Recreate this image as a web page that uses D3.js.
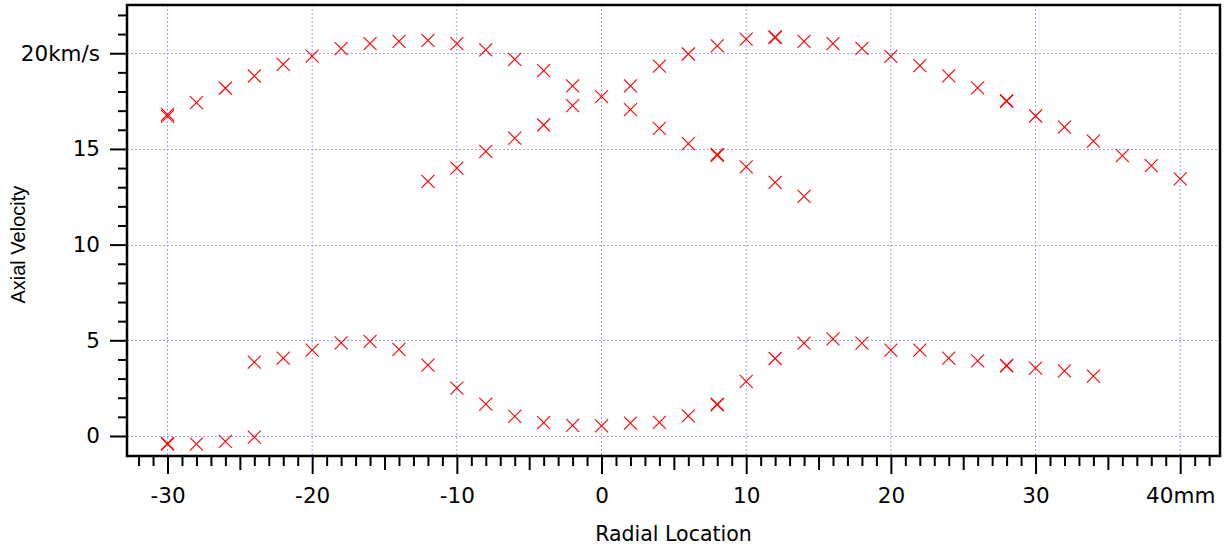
<!DOCTYPE html>
<html>
<head>
<meta charset="utf-8">
<script src="https://cdn.jsdelivr.net/npm/d3@7"></script>
<style>
  html, body { margin: 0; padding: 0; background: #ffffff; }
  svg { display: block; }
</style>
</head>
<body>
<svg id="chart" width="1228" height="548"></svg>
<script>
// ---------------- data ----------------
const upperX = [-30,-28,-26,-24,-22,-20,-18,-16,-14,-12,-10,-8,-6,-4,-2,0,2,4,6,8,10,12,14,16,18,20,22,24,26,28,30,32,34,36,38,40];
const upperV = [16.7,17.42,18.17,18.81,19.42,19.85,20.24,20.5,20.62,20.67,20.5,20.17,19.68,19.09,18.29,17.73,18.3,19.33,19.96,20.39,20.74,20.82,20.62,20.5,20.25,19.83,19.35,18.82,18.19,17.48,16.72,16.14,15.41,14.65,14.13,13.43];

const innerX = [-12,-10,-8,-6,-4,-2,2,4,6,8,10,12,14];
const innerV = [13.3,14.0,14.87,15.56,16.25,17.26,17.05,16.07,15.28,14.67,14.06,13.25,12.52];

const lowLeftX = [-30,-28,-26,-24];
const lowLeftV = [-0.42,-0.42,-0.28,-0.06];

const lowerX = [-24,-22,-20,-18,-16,-14,-12,-10,-8,-6,-4,-2,0,2,4,6,8,10,12,14,16,18,20,22,24,26,28,30,32,34];
const lowerV = [3.86,4.07,4.49,4.87,4.94,4.53,3.7,2.5,1.66,1.03,0.7,0.55,0.53,0.67,0.71,1.05,1.63,2.86,4.05,4.85,5.08,4.85,4.49,4.49,4.07,3.93,3.66,3.55,3.4,3.13];

// repeated measurements (drawn over existing points, giving the bolder crosses)
const repeatX = [-30,12,28,8,-30,8,28];
const repeatV = [16.8,20.86,17.52,14.71,-0.39,1.66,3.69];

const xMajorTicks = [-30,-20,-10,0,10,20,30,40];
const xTickLabels = ["-30","-20","-10","0","10","20","30","40mm"];
const yMajorTicks = [0,5,10,15,20];
const yTickLabels = ["0","5","10","15","20km/s"];
const xTitle = "Radial Location";
const yTitle = "Axial Velocity";

// ---------------- layout ----------------
const svg = d3.select("#chart");
const L = 127, R = 1220, T = 5, B = 456;
const x = d3.scaleLinear().domain([-32.8, 42.75]).range([L, R]);
const y = d3.scaleLinear().domain([-1.045, 22.52]).range([B, T]);

const fontTick = "'DejaVu Sans', sans-serif";
const gridColor = "#a0a0ff";

// grid
const grid = svg.append("g");
grid.selectAll("line.vg").data(xMajorTicks).join("line")
  .attr("x1", d => x(d)).attr("x2", d => x(d))
  .attr("y1", T).attr("y2", B)
  .attr("stroke", gridColor).attr("stroke-width", 1).attr("stroke-dasharray", "2,2");
grid.selectAll("line.hg").data(yMajorTicks).join("line")
  .attr("x1", L).attr("x2", R)
  .attr("y1", d => Math.round(y(d)) + 0.5).attr("y2", d => Math.round(y(d)) + 0.5)
  .attr("stroke", gridColor).attr("stroke-width", 1).attr("stroke-dasharray", "2,2");

// minor ticks
const xMinor = d3.range(Math.ceil(x.domain()[0]), Math.floor(x.domain()[1]) + 1).filter(v => v % 5 !== 0);
const xMid = d3.range(-30, 45, 5).filter(v => v % 10 !== 0);
const yMinor = d3.range(0, 23).filter(v => v % 5 !== 0);

function plainAxis(axis) {
  return g => { g.call(axis); g.select(".domain").remove(); g.selectAll("line").attr("stroke", "#000").attr("stroke-width", 2); };
}

svg.append("g").attr("transform", `translate(0,${B})`)
  .call(plainAxis(d3.axisBottom(x).tickValues(xMinor).tickSize(10).tickFormat("")));
svg.append("g").attr("transform", `translate(0,${B})`)
  .call(plainAxis(d3.axisBottom(x).tickValues(xMid).tickSize(14).tickFormat("")));
const xAx = svg.append("g").attr("transform", `translate(0,${B})`)
  .call(plainAxis(d3.axisBottom(x).tickValues(xMajorTicks).tickSize(18).tickPadding(14)
    .tickFormat((d, i) => xTickLabels[i])));
xAx.selectAll("text").attr("font-family", fontTick).attr("font-size", 21.5).attr("fill", "#000");

svg.append("g").attr("transform", `translate(${L},0)`)
  .call(plainAxis(d3.axisLeft(y).tickValues(yMinor).tickSize(9).tickFormat("")));
const yAx = svg.append("g").attr("transform", `translate(${L},0)`)
  .call(plainAxis(d3.axisLeft(y).tickValues(yMajorTicks).tickSize(17).tickPadding(10)
    .tickFormat((d, i) => yTickLabels[i])));
yAx.selectAll("text").attr("font-family", fontTick).attr("font-size", 21.5).attr("fill", "#000");

// frame
const frame = svg.append("g").attr("stroke", "#000").attr("stroke-width", 2.5).attr("fill", "none");
frame.append("path").attr("d", `M${L},${T}H${R}V${B}H${L}Z`);

// markers
const allSeries = [
  [upperX, upperV], [innerX, innerV], [lowLeftX, lowLeftV], [lowerX, lowerV], [repeatX, repeatV]
];
const pts = [];
allSeries.forEach(([xs, vs]) => xs.forEach((xv, i) => pts.push([xv, vs[i]])));
const s = 6.5;
svg.append("g").selectAll("path").data(pts).join("path")
  .attr("d", d => {
    const cx = x(d[0]), cy = y(d[1]);
    return `M${cx - s},${cy - s}L${cx + s},${cy + s}M${cx - s},${cy + s}L${cx + s},${cy - s}`;
  })
  .attr("stroke", "#ff0000").attr("stroke-width", 1.1).attr("fill", "none");

// titles
svg.append("text").attr("x", (x(-32.8) + x(42.75)) / 2).attr("y", 541)
  .attr("text-anchor", "middle").attr("font-family", fontTick).attr("font-size", 20.5)
  .attr("fill", "#000").text(xTitle);
svg.append("text").attr("transform", `translate(25,${y(10)}) rotate(-90)`)
  .attr("text-anchor", "middle").attr("font-family", "'Liberation Sans', Arial, sans-serif").attr("font-size", 20)
  .attr("fill", "#000").text(yTitle);
</script>
</body>
</html>
